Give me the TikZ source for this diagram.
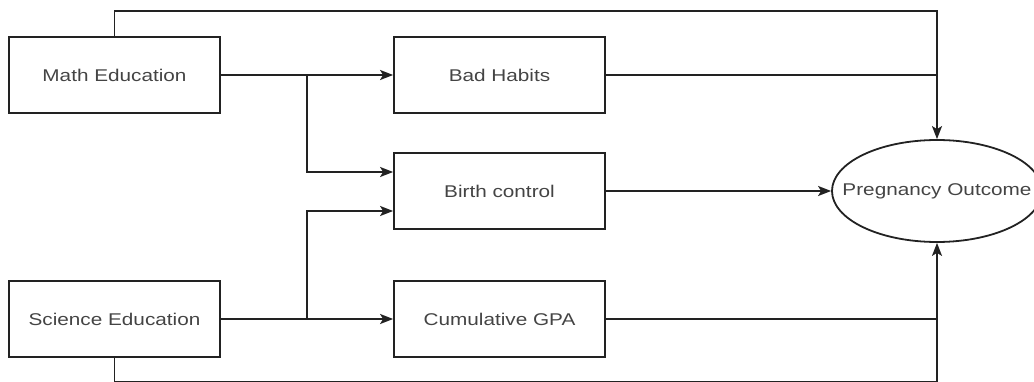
\documentclass[tikz,border=0pt]{standalone}
\usepackage{fontspec}
\setmainfont{Liberation Sans}[FakeStretch=1.22]
\usetikzlibrary{shapes.geometric,arrows.meta}
\definecolor{ln}{HTML}{222222}
\definecolor{tx}{HTML}{444444}
\begin{document}
\begin{tikzpicture}[x=1pt,y=-1pt,
  box/.style={draw=ln,line width=1.8pt,minimum width=211pt,minimum height=76pt,inner sep=0pt,text=tx,font=\fontsize{17}{18}\selectfont},
  conn/.style={draw=ln,line width=1.8pt},
  arr/.style={conn,-{Stealth[length=13pt,width=10pt,inset=3pt]}}]
\useasboundingbox (0,0) rectangle (1034,382);
\node[box] (math) at (114.5,75) {Math Education};
\node[box] (sci) at (114.5,319) {Science Education};
\node[box] (bad) at (499.5,75) {Bad Habits};
\node[box] (bc) at (499.5,191) {Birth control};
\node[box] (gpa) at (499.5,319) {Cumulative GPA};
\node[box,ellipse,minimum width=210pt,minimum height=102pt] (po) at (937,191) {\makebox[0pt]{Pregnancy Outcome}};
\coordinate (top) at (937,11);
\coordinate (bot) at (937,382);
\coordinate (j1) at (307,75);
\coordinate (j2) at (307,319);
% top and bottom loops
\draw[arr] (math.north) |- (top) -- (po.north);
\draw[arr] (sci.south) |- (bot) -- (po.south);
% middle row
\draw[arr] (math.east) -- (bad.west);
\draw[arr] (sci.east) -- (gpa.west);
\draw[arr] (j1) |- ([yshift=19pt]bc.west);
\draw[arr] (j2) |- ([yshift=-20pt]bc.west);
\draw[arr] (bc.east) -- (po.west);
\draw[conn] (bad.east) -- (bad.east -| po.north);
\draw[conn] (gpa.east) -- (gpa.east -| po.south);
\end{tikzpicture}
\end{document}
